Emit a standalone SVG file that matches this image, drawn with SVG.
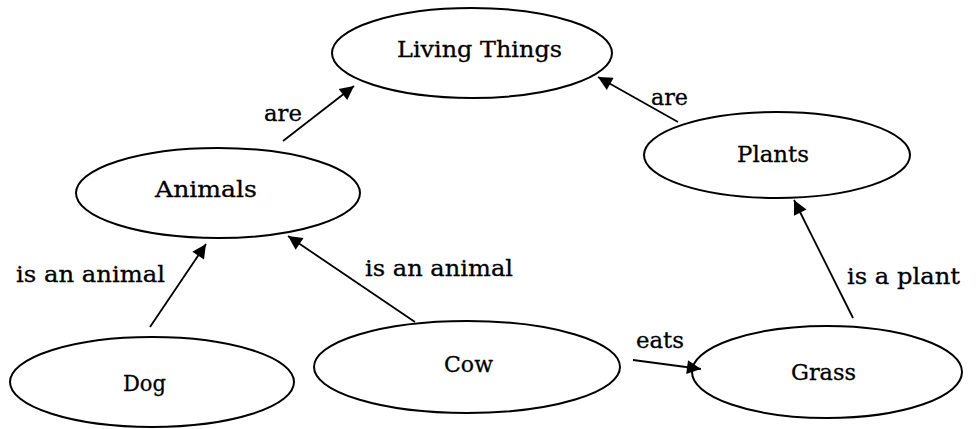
<svg xmlns="http://www.w3.org/2000/svg" width="979" height="429" viewBox="0 0 979 429">
<style>
.node ellipse{fill:#fff;stroke:#000;stroke-width:2}
text{font-family:"DejaVu Serif","Liberation Serif",serif;font-size:23px;fill:#000;stroke:#000;stroke-width:0.3}
.conn line{stroke:#000;stroke-width:1.8}
</style>
<defs>
<marker id="ah" viewBox="0 0 10 10" refX="10" refY="5" markerWidth="18" markerHeight="14" markerUnits="userSpaceOnUse" orient="auto">
<path d="M0,0 L10,5 L0,10 z" fill="#000"/>
</marker>
</defs>
<rect width="979" height="429" fill="#fff"/>
<g id="living-things" class="node">
<ellipse cx="472" cy="53" rx="140" ry="45"/>
<text x="397" y="57" textLength="165" lengthAdjust="spacingAndGlyphs">Living Things</text>
</g>
<g id="animals" class="node">
<ellipse cx="218" cy="193" rx="142" ry="45"/>
<text x="155" y="197" textLength="102" lengthAdjust="spacingAndGlyphs">Animals</text>
</g>
<g id="plants" class="node">
<ellipse cx="777" cy="155" rx="133" ry="43"/>
<text x="737" y="162" textLength="72" lengthAdjust="spacingAndGlyphs">Plants</text>
</g>
<g id="dog" class="node">
<ellipse cx="152" cy="382" rx="142" ry="45"/>
<text x="123" y="391" textLength="43" lengthAdjust="spacingAndGlyphs">Dog</text>
</g>
<g id="cow" class="node">
<ellipse cx="467" cy="367" rx="153" ry="46"/>
<text x="444" y="372" textLength="49" lengthAdjust="spacingAndGlyphs">Cow</text>
</g>
<g id="grass" class="node">
<ellipse cx="827" cy="372" rx="135" ry="46"/>
<text x="791" y="380" textLength="65" lengthAdjust="spacingAndGlyphs">Grass</text>
</g>
<g id="connectors" class="conn">
<line x1="283" y1="141" x2="354" y2="86" marker-end="url(#ah)"/>
<line x1="678" y1="122" x2="598" y2="77" marker-end="url(#ah)"/>
<line x1="150" y1="327" x2="206" y2="244" marker-end="url(#ah)"/>
<line x1="415" y1="322" x2="288" y2="236" marker-end="url(#ah)"/>
<line x1="633" y1="360" x2="701" y2="369" marker-end="url(#ah)"/>
<line x1="853" y1="318" x2="794" y2="200" marker-end="url(#ah)"/>
<text x="264" y="121" textLength="38" lengthAdjust="spacingAndGlyphs">are</text>
<text x="651" y="105" textLength="37" lengthAdjust="spacingAndGlyphs">are</text>
<text x="16" y="282" textLength="149" lengthAdjust="spacingAndGlyphs">is an animal</text>
<text x="365" y="276" textLength="148" lengthAdjust="spacingAndGlyphs">is an animal</text>
<text x="636" y="348" textLength="48" lengthAdjust="spacingAndGlyphs">eats</text>
<text x="847" y="284" textLength="113" lengthAdjust="spacingAndGlyphs">is a plant</text>
</g>
</svg>
